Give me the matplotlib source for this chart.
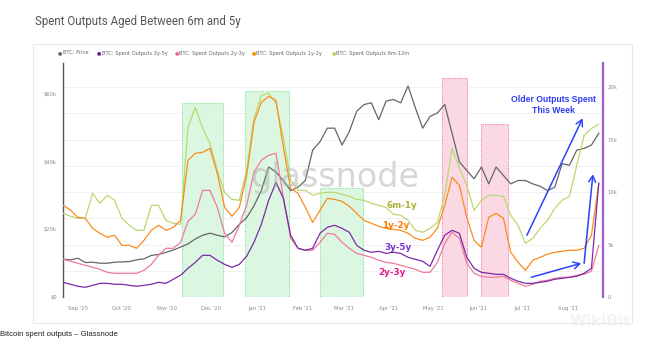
import matplotlib
matplotlib.use('Agg')
import matplotlib.pyplot as plt
import matplotlib.dates as mdates
from matplotlib.patches import Rectangle
from matplotlib.lines import Line2D
from matplotlib.transforms import blended_transform_factory
import pandas as pd
import numpy as np

# ---------------- data ----------------
dates = pd.date_range('2020-08-22', periods=74, freq='5D')

price_k = [11.2, 11.0, 11.5, 10.2, 10.3, 10.0, 10.0, 10.3, 10.4, 10.5, 11.0, 11.3, 12.3, 12.6, 13.2,
           13.9, 14.8, 15.7, 17.2, 18.3, 18.9, 18.3, 17.8, 19.1, 21.5, 23.5, 27.0, 31.5, 38.5, 37.0,
           34.5, 31.5, 32.5, 34.5, 43.5, 46.0, 50.0, 50.0, 45.0, 49.0, 55.0, 57.0, 57.5, 52.5, 58.0,
           58.5, 57.5, 62.5, 56.0, 50.0, 53.5, 54.5, 57.0, 48.5, 40.0, 37.5, 35.0, 38.5, 33.5, 38.5,
           36.0, 33.5, 34.5, 34.5, 33.5, 32.8, 31.5, 32.5, 39.5, 39.0, 43.5, 44.0, 45.0, 48.5]

so_6m_12m = [7970, 7690, 7500, 7500, 9880, 8920, 9690, 9210, 7500, 6830, 6350, 6350, 8730, 8730, 7300,
             7020, 6920, 16160, 18070, 16070, 14640, 12070, 9970, 9300, 9210, 12070, 17020, 19210, 19400, 18450,
             15210, 11110, 10160, 10160, 9690, 9880, 9970, 9970, 9780, 9590, 9300, 9210, 8920, 8730, 8540,
             7880, 7780, 7300, 6350, 6160, 6540, 7110, 9690, 14160, 12260, 10640, 8240, 9210, 9690, 9690,
             9590, 7780, 6830, 5110, 5590, 6540, 7300, 8450, 9210, 9590, 12540, 15400, 16070, 16450]

so_1y_2y = [8730, 8260, 7590, 7500, 6540, 6070, 5690, 5880, 4920, 4920, 4640, 5400, 6350, 6830, 6350,
            6640, 7300, 13020, 13690, 13780, 14160, 11780, 8540, 7690, 8540, 11590, 16640, 18540, 19110, 18730,
            14260, 10350, 9880, 8540, 7110, 8260, 9400, 9300, 9110, 8640, 7970, 7300, 7020, 6730, 6540,
            6450, 6350, 6070, 5590, 5400, 5690, 6540, 8730, 11400, 10640, 7590, 5400, 4730, 7590, 7970,
            7500, 4260, 3300, 2540, 3500, 3780, 4070, 4260, 4350, 4450, 4450, 4640, 5880, 10830]

so_2y_3y = [3590, 3400, 3210, 3020, 2830, 2640, 2350, 2260, 2260, 2260, 2260, 2540, 3110, 3970, 4640,
            4640, 5210, 7210, 7880, 10160, 10160, 8540, 6070, 5210, 6830, 8730, 11880, 13020, 13500, 13690,
            9500, 5590, 4640, 4450, 4450, 5210, 6070, 5970, 5210, 4640, 4160, 3970, 3780, 3500, 3300,
            3210, 3020, 2830, 2640, 2350, 2350, 3300, 5110, 6160, 5590, 3210, 2260, 1970, 1880, 1880,
            1970, 1590, 1300, 1020, 1210, 1500, 1590, 1780, 1880, 1880, 2070, 2160, 2450, 4920]

so_3y_5y = [1400, 1210, 1020, 920, 1110, 1300, 1300, 1210, 1210, 1110, 1020, 1110, 1210, 1400, 1300,
            1690, 2070, 2730, 3300, 3970, 3970, 3500, 3110, 2830, 3110, 3880, 5210, 6920, 9210, 10920,
            9400, 5880, 4640, 4450, 4640, 6070, 6640, 6830, 6540, 6160, 4920, 4450, 4260, 4350, 4160,
            4260, 4160, 3780, 3590, 3400, 2920, 4450, 5880, 6350, 6070, 3780, 2730, 2350, 2260, 2160,
            2160, 1780, 1500, 1300, 1300, 1400, 1500, 1690, 1780, 1880, 1970, 2260, 2730, 10830]

green_zones = [('2020-11-11', '2020-12-09', 18450),
               ('2020-12-24', '2021-01-23', 19600),
               ('2021-02-13', '2021-03-14', 10350)]
pink_zones = [('2021-05-07', '2021-05-24', 20900),
              ('2021-06-03', '2021-06-21', 16450)]

legend_labels = ['BTC: Price', 'BTC: Spent Outputs 3y-5y', 'BTC: Spent Outputs 2y-3y',
                 'BTC: Spent Outputs 1y-2y', 'BTC: Spent Outputs 6m-12m']

C_PRICE = '#666666'
C_35 = '#7a2aa8'
C_23 = '#f07a9c'
C_12 = '#fb8c1e'
C_6m = '#b9d970'
legend_colors = [C_PRICE, '#6a1b9a', '#f06292', '#ff8a00', '#b5d65a']

# ---------------- figure ----------------
W, H = 659, 349
fig = plt.figure(figsize=(W / 100, H / 100), dpi=100)
fig.patch.set_facecolor('white')

def fx(px):
    return px / W

def fy(py):
    return 1 - py / H

# card (behind everything)
card = Rectangle((fx(33), fy(323)), fx(632) - fx(33), fy(44) - fy(323), transform=fig.transFigure,
                 facecolor='none', edgecolor='#e8e8e8', lw=0.8, zorder=-5)
fig.patches.append(card)

fig.text(fx(35), fy(21), 'Spent Outputs Aged Between 6m and 5y', fontsize=8.3, color='#555555',
         family='Roboto', va='center', ha='left')

fig.text(0, fy(334), 'Bitcoin spent outputs \u2013 Glassnode', fontsize=5.6, color='#222222',
         family='Liberation Sans', va='center', ha='left')

# legend
leg_x = [58, 97, 175, 252, 332]
for x0, lab, col in zip(leg_x, legend_labels, legend_colors):
    fig.text(fx(x0), fy(53), '\u25cf', fontsize=3.6, color=col, va='center', ha='left')
    fig.text(fx(x0 + 4.5), fy(53), lab, fontsize=3.7, color='#666666', va='center', ha='left')

ax = fig.add_axes([fx(63), fy(297), fx(603) - fx(63), fy(63) - fy(297)])
ax2 = ax.twinx()
ax.set_facecolor('white')
ax.set_zorder(1)
ax2.set_zorder(2)
ax2.patch.set_visible(False)

x0 = mdates.date2num(pd.Timestamp('2020-08-21 20:00'))
x1 = mdates.date2num(pd.Timestamp('2021-08-24 21:00'))

# faint gridlines (right-axis units)
gtrans = blended_transform_factory(ax.transAxes, ax2.transData)
for v in np.arange(2500, 22500, 2500):
    ax.add_line(Line2D([0, 1], [v, v], transform=gtrans, color='#efefef', lw=0.6, zorder=0.5))

# shaded zones
for s, e, top in green_zones:
    a, b = mdates.date2num(pd.Timestamp(s)), mdates.date2num(pd.Timestamp(e))
    r = Rectangle((a, 0), b - a, top, transform=ax2.transData, facecolor='#dcf7e1',
                  edgecolor='#86e39a', lw=0.8, ls=(0, (1, 1)), zorder=1)
    ax.add_patch(r)
for s, e, top in pink_zones:
    a, b = mdates.date2num(pd.Timestamp(s)), mdates.date2num(pd.Timestamp(e))
    r = Rectangle((a, 0), b - a, top, transform=ax2.transData, facecolor='#fbd9e4',
                  edgecolor='#f27fa6', lw=0.8, ls=(0, (1, 1)), zorder=1)
    ax.add_patch(r)

ax.plot(dates, np.array(price_k) * 1000, color=C_PRICE, lw=0.9, zorder=3)
ax2.plot(dates, so_6m_12m, color=C_6m, lw=0.9, zorder=2)
ax2.plot(dates, so_1y_2y, color=C_12, lw=0.9, zorder=3)
ax2.plot(dates, so_2y_3y, color=C_23, lw=0.9, zorder=4)
ax2.plot(dates, so_3y_5y, color=C_35, lw=0.9, zorder=5)

ax.set_xlim(x0, x1)
ax.set_ylim(0, 69300)
ax2.set_ylim(0, 22290)

ax.set_yticks([0, 20000, 40000, 60000])
ax.set_yticklabels(['$0', '$20k', '$40k', '$60k'])
ax2.set_yticks([0, 5000, 10000, 15000, 20000])
ax2.set_yticklabels(['0', '5k', '10k', '15k', '20k'])
ax.xaxis.set_major_locator(mdates.MonthLocator())
ax.xaxis.set_major_formatter(mdates.DateFormatter("%b '%y"))

ax.tick_params(axis='y', length=0, labelsize=3.8, labelcolor='#8a8a8a', pad=4.5)
ax2.tick_params(axis='y', length=0, labelsize=3.8, labelcolor='#8a8a8a', pad=3)
ax.tick_params(axis='x', length=0, labelsize=3.8, labelcolor='#8a8a8a', pad=6.5)

for sp in ['top', 'bottom', 'right']:
    ax.spines[sp].set_visible(False)
for sp in ['top', 'bottom', 'left']:
    ax2.spines[sp].set_visible(False)
ax.spines['left'].set_color('#555555')
ax.spines['left'].set_linewidth(1.0)
ax2.spines['right'].set_color('#a25ed0')
ax2.spines['right'].set_linewidth(1.6)

# series labels
def d(s):
    return mdates.date2num(pd.Timestamp(s))

lab_kw = dict(fontsize=6.3, fontweight='bold', va='center', ha='left', zorder=10)
ax2.text(d('2021-03-30'), 8730, '6m-1y', color='#aab236', **lab_kw)
ax2.text(d('2021-03-27'), 6830, '1y-2y', color='#ff7a00', **lab_kw)
ax2.text(d('2021-03-29'), 4730, '3y-5y', color='#7a2fd0', **lab_kw)
ax2.text(d('2021-03-25'), 2350, '2y-3y', color='#e8198b', **lab_kw)

# annotation
ax2.text(d('2021-07-22'), 18820, 'Older Outputs Spent', color='#2b3cf2', fontsize=6.2,
         fontweight='bold', ha='center', va='center', family='Liberation Sans', zorder=10)
ax2.text(d('2021-07-22'), 17770, 'This Week', color='#2b3cf2', fontsize=6.2,
         fontweight='bold', ha='center', va='center', family='Liberation Sans', zorder=10)

arrow_kw = dict(arrowstyle='->,head_length=0.45,head_width=0.25', color='#2a44f5', lw=1.1,
                shrinkA=0, shrinkB=0)
ax2.annotate('', xy=(d('2021-08-11'), 17020), xytext=(d('2021-07-04'), 5880), arrowprops=arrow_kw, zorder=11)
ax2.annotate('', xy=(d('2021-08-18'), 11690), xytext=(d('2021-08-12'), 3210), arrowprops=arrow_kw, zorder=11)
ax2.annotate('', xy=(d('2021-08-10'), 3210), xytext=(d('2021-07-07'), 1880), arrowprops=arrow_kw, zorder=11)

# watermarks
fig.text(fx(335), fy(178), 'glassnode', fontsize=24, color='#b0b0b0', alpha=0.5,
         ha='center', va='center', family='DejaVu Sans', zorder=20)
fig.text(fx(600), fy(321), 'WikiBit', fontsize=11, color='#ececec', alpha=0.6, fontweight='bold',
         ha='center', va='center', zorder=20)

fig.savefig('out.png', dpi=100, facecolor='white')
